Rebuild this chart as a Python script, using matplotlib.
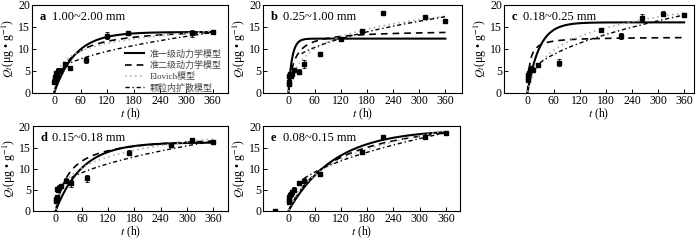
import numpy as np
import matplotlib
matplotlib.use("Agg")
import matplotlib.pyplot as plt

plt.rcParams['font.family'] = ['Liberation Serif', 'Noto Sans CJK SC']
plt.rcParams['mathtext.fontset'] = 'stix'

# panel titles
labels = ['a', 'b', 'c', 'd', 'e']
sizes = ['1.00~2.00 mm', '0.25~1.00 mm', '0.18~0.25 mm', '0.15~0.18 mm', '0.08~0.15 mm']

# measured points (t in h, Qt in ug/g)
tA = [0.5, 1, 2, 4, 6, 8, 12, 24, 36, 72, 120, 168, 312, 360]
qA = [2.5, 3.0, 3.5, 4.5, 4.0, 5.0, 5.0, 6.5, 5.7, 7.5, 13.0, 13.5, 13.5, 13.8]
eA = [0.5, 0.5, 0.5, 0.5, 0.5, 0.5, 0.5, 0.5, 0.4, 0.7, 0.8, 0.4, 0.8, 0.4]

tB = [0.5, 1, 2, 4, 6, 8, 12, 24, 36, 72, 120, 168, 216, 312, 360]
qB = [2.0, 2.5, 3.8, 4.3, 3.8, 4.2, 5.2, 4.8, 6.5, 8.8, 12.3, 14.0, 18.2, 17.2, 16.3]
eB = [0.6, 0.6, 0.5, 0.5, 0.5, 0.5, 0.4, 0.6, 0.9, 0.3, 0.3, 0.6, 0.3, 0.3, 0.3]

tC = [0.5, 1, 2, 4, 6, 8, 12, 24, 72, 168, 216, 264, 312, 360]
qC = [2.8, 3.3, 4.0, 4.5, 5.2, 5.5, 5.2, 6.3, 6.8, 14.2, 12.9, 17.1, 18.0, 17.7]
eC = [0.4, 0.4, 0.4, 0.4, 0.4, 0.4, 0.3, 0.3, 0.8, 0.3, 0.7, 0.7, 0.5, 0.3]

tD = [0.5, 1, 2, 4, 6, 8, 12, 24, 36, 72, 168, 264, 312, 360]
qD = [2.3, 2.8, 3.2, 5.2, 5.0, 5.5, 5.8, 7.1, 6.5, 7.7, 13.8, 15.6, 16.9, 16.2]
eD = [0.5, 0.5, 0.5, 0.5, 0.5, 0.5, 0.5, 0.6, 0.9, 0.8, 0.5, 0.4, 0.3, 0.3]

tE = [-30, 0.5, 1, 2, 4, 6, 8, 12, 24, 36, 72, 168, 216, 312, 360]
qE = [0.0, 2.0, 2.6, 3.2, 3.8, 4.0, 4.5, 5.0, 6.5, 7.0, 8.7, 13.9, 17.5, 17.6, 18.5]
eE = [0.0, 0.5, 0.5, 0.5, 0.5, 0.5, 0.5, 0.6, 0.4, 0.8, 0.4, 0.3, 0.3, 0.3, 0.3]

# fitted model parameters per panel (a..e)
pfo_qe = [13.8, 12.3, 16.0, 16.2, 19.3]
pfo_k1 = [0.021, 0.12, 0.037, 0.0165, 0.0095]
pso_qe = [15.0, 14.2, 12.7, 18.0, 24.0]
pso_k = [0.0292, 0.076, 0.2, 0.0316, 0.00933]   # qe*k2
elo_a = [2.58, 4.37, 5.16, 3.98, 7.0]            # 1/beta
elo_ab = [0.63, 0.146, 0.091, 0.199, 0.039]      # alpha*beta
ipd_kp = [0.536, 0.623, 0.80, 0.666, 0.832]
ipd_c = [3.53, 5.48, 2.5, 3.87, 2.72]
ipd_t0 = [24, 30, 10, 36, 36]

xlims = [(-50, 395), (-58, 398), (-54, 382), (-52, 394), (-58, 392)]
boxes = [(0.046, 0.614, 0.280, 0.366),
         (0.376, 0.614, 0.284, 0.366),
         (0.720, 0.614, 0.271, 0.366),
         (0.047, 0.122, 0.279, 0.351),
         (0.376, 0.122, 0.281, 0.351)]

pts = [(tA, qA, eA), (tB, qB, eB), (tC, qC, eC), (tD, qD, eD), (tE, qE, eE)]

fig = plt.figure(figsize=(7, 2.4), dpi=100)

for i in range(5):
    ax = fig.add_axes(boxes[i])
    t = np.linspace(0, 360, 500)
    pfo = pfo_qe[i] * (1 - np.exp(-pfo_k1[i] * t))
    pso = pso_qe[i] * pso_k[i] * t / (1 + pso_k[i] * t)
    te = np.linspace(0.3, 360, 500)
    elo = elo_a[i] * np.log(1 + elo_ab[i] * te)
    ti = np.linspace(ipd_t0[i], 360, 300)
    ipd = ipd_kp[i] * np.sqrt(ti) + ipd_c[i]

    ax.plot(t, pfo, color='black', lw=1.5, label='准一级动力学模型')
    ax.plot(t, pso, color='black', lw=1.2, ls=(0, (4, 3)), label='准二级动力学模型')
    ax.plot(te, elo, color='#b0b0b0', lw=1.2, ls=(0, (1, 2)), label='Elovich模型')
    ax.plot(ti, ipd, color='black', lw=1.0, ls=(0, (3, 2, 1, 2)), label='颗粒内扩散模型')

    tt, qq, ee = pts[i]
    ax.errorbar(tt, qq, yerr=ee, fmt='s', color='black', ms=2.8,
                elinewidth=0.6, capsize=1.5, capthick=0.6)

    ax.set_xlim(*xlims[i])
    ax.set_ylim(0, 20)
    ax.set_xticks([0, 60, 120, 180, 240, 300, 360])
    ax.set_yticks([0, 5, 10, 15, 20])
    ax.tick_params(direction='in', labelsize=8.5, length=3, width=0.7, pad=1.5)
    for s in ax.spines.values():
        s.set_linewidth(0.8)
    ax.set_xlabel(r'$t$ (h)', fontsize=8.5, labelpad=0)
    ax.set_ylabel(r'$Q_t$(μg • g$^{-1}$)', fontsize=8.5, labelpad=1)
    ax.text(0.04, 0.93, labels[i], transform=ax.transAxes, fontsize=9,
            fontweight='bold', va='top')
    ax.text(0.10, 0.93, sizes[i], transform=ax.transAxes, fontsize=9, va='top')

    if i == 0:
        ax.legend(loc='lower right', frameon=False, fontsize=6.5,
                  handlelength=2.2, labelspacing=0.25, borderpad=0.2,
                  handletextpad=0.6, bbox_to_anchor=(1.0, -0.07),
                  labelcolor='#444444')

fig.savefig('out.png', dpi=100)
